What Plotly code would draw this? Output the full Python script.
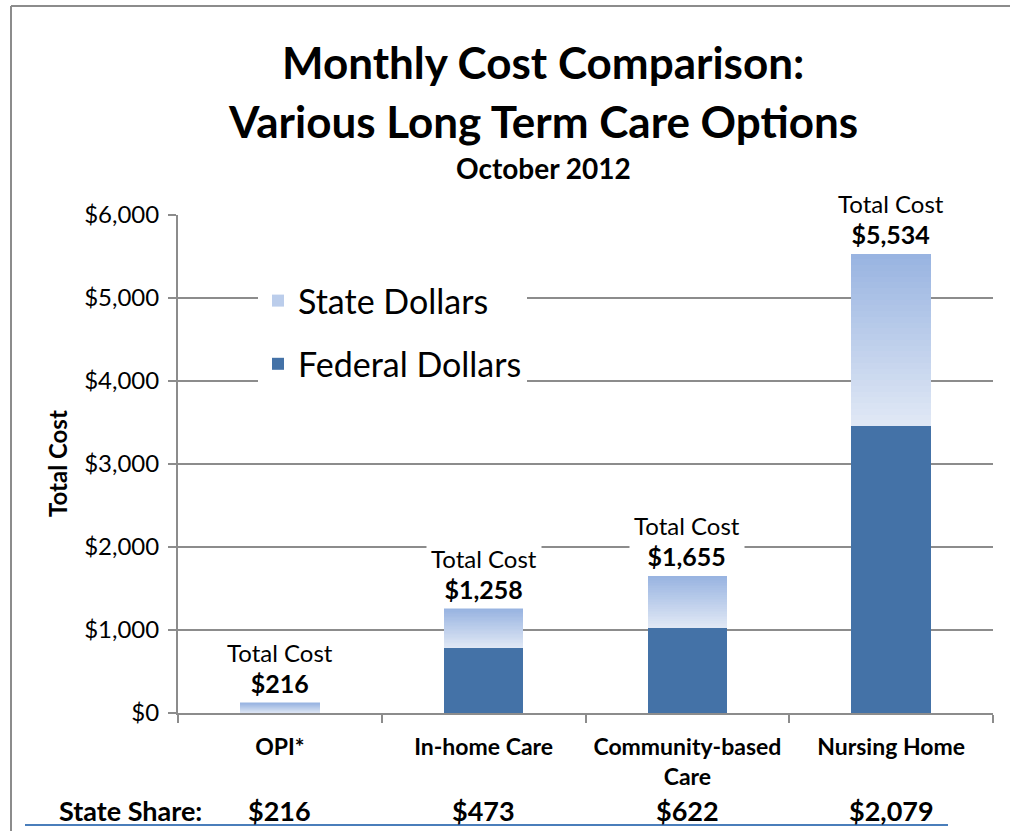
import plotly.graph_objects as go

categories = ["OPI*", "In-home Care", "Community-based<br>Care", "Nursing Home"]
federal_dollars = [0, 785, 1033, 3455]
state_dollars = [125, 473, 622, 2079]
total_labels = ["$216", "$1,258", "$1,655", "$5,534"]
state_share_labels = ["$216", "$473", "$622", "$2,079"]
y_ticks = [0, 1000, 2000, 3000, 4000, 5000, 6000]
y_tick_text = ["$0", "$1,000", "$2,000", "$3,000", "$4,000", "$5,000", "$6,000"]

FONT = "Lato"
FED_COLOR = "#4472a7"
GRAD_TOP = (0x99, 0xb4, 0xe1)
GRAD_BOT = (0xe0, 0xe8, 0xf5)
N_SLICES = 30

# plot area in pixels
L, R, T, B = 178, 993, 215, 713
W, H = 1013, 831


def px_x(p):
    return (p - L) / (R - L)


def px_y(p):
    return (B - p) / (B - T)


fig = go.Figure()

fig.add_trace(go.Bar(
    x=categories, y=federal_dollars, name="Federal Dollars",
    marker=dict(color=FED_COLOR, line=dict(width=0)),
    legendgroup="fed", legendrank=2, hoverinfo="skip",
))

for i in range(N_SLICES):
    t = i / (N_SLICES - 1)
    c = tuple(int(round(GRAD_BOT[k] + (GRAD_TOP[k] - GRAD_BOT[k]) * t)) for k in range(3))
    fig.add_trace(go.Bar(
        x=categories, y=[v / N_SLICES for v in state_dollars],
        name="State Dollars",
        marker=dict(color="rgb(%d,%d,%d)" % c, line=dict(width=0)),
        legendgroup="state", legendrank=1,
        showlegend=(i == N_SLICES // 2), hoverinfo="skip",
    ))

annotations = []
for cat, fed, st, lab in zip(categories, federal_dollars, state_dollars, total_labels):
    annotations.append(dict(
        x=cat, y=fed + st, xref="x", yref="y", xanchor="center", yanchor="bottom", yshift=0,
        text="Total Cost<br><b><span style='font-size:25px'>%s</span></b>" % lab,
        showarrow=False, bgcolor="white", borderpad=4,
        font=dict(family=FONT, size=24, color="black"),
    ))

for cat, lab in zip(categories, state_share_labels):
    annotations.append(dict(
        x=cat, y=px_y(810), xref="x", yref="paper", xanchor="center", yanchor="middle",
        text="<b>%s</b>" % lab,
        showarrow=False, font=dict(family=FONT, size=27, color="black"),
    ))
annotations.append(dict(
    x=px_x(130), y=px_y(810), xref="paper", yref="paper", xanchor="center", yanchor="middle",
    text="<b>State Share:</b>",
    showarrow=False, font=dict(family=FONT, size=27, color="black"),
))

# titles
annotations += [
    dict(x=px_x(543), y=px_y(62), xref="paper", yref="paper", xanchor="center", yanchor="middle",
         showarrow=False, text="<b>Monthly Cost Comparison:</b>",
         font=dict(family=FONT, size=44, color="black")),
    dict(x=px_x(543), y=px_y(121), xref="paper", yref="paper", xanchor="center", yanchor="middle",
         showarrow=False, text="<b>Various Long Term Care Options</b>",
         font=dict(family=FONT, size=44, color="black")),
    dict(x=px_x(543), y=px_y(168), xref="paper", yref="paper", xanchor="center", yanchor="middle",
         showarrow=False, text="<b>October 2012</b>",
         font=dict(family=FONT, size=28, color="black")),
    dict(x=px_x(57), y=px_y(464), xref="paper", yref="paper", xanchor="center", yanchor="middle",
         showarrow=False, textangle=-90, text="<b>Total Cost</b>",
         font=dict(family=FONT, size=24, color="black")),
]

shapes = [
    dict(type="line", xref="paper", yref="paper", x0=px_x(11), x1=px_x(11), y0=px_y(6), y1=px_y(835),
         line=dict(color="#8c8c8c", width=2)),
    dict(type="line", xref="paper", yref="paper", x0=px_x(11), x1=px_x(1010), y0=px_y(6), y1=px_y(6),
         line=dict(color="#8c8c8c", width=2)),
    dict(type="line", xref="paper", yref="paper", x0=px_x(25), x1=px_x(948), y0=px_y(825), y1=px_y(825),
         line=dict(color="#4a7ebb", width=2)),
]

fig.update_layout(
    width=W, height=H,
    margin=dict(l=L, r=W - R, t=T, b=H - B, autoexpand=False),
    barmode="stack", bargap=0.61,
    paper_bgcolor="white", plot_bgcolor="white",
    font=dict(family=FONT, color="black"),
    showlegend=True,
    legend=dict(x=px_x(258), y=px_y(272), xanchor="left", yanchor="top",
                bgcolor="white", font=dict(family=FONT, size=34, color="black"),
                tracegroupgap=16, itemclick=False),
    annotations=annotations, shapes=shapes,
)

fig.update_xaxes(
    type="category", tickson="boundaries", ticks="outside", ticklen=8, tickwidth=2,
    tickcolor="#8c8c8c", showline=True, linecolor="#8c8c8c", linewidth=2,
    showgrid=False, tickfont=dict(family=FONT, size=23, color="black"),
    tickprefix="<b>", ticksuffix="</b>", ticklabelstandoff=12, tickangle=0,
)
fig.update_yaxes(
    range=[0, 6000], tickvals=y_ticks, ticktext=y_tick_text,
    ticks="outside", ticklen=8, tickwidth=2, tickcolor="#8c8c8c",
    showline=True, linecolor="#8c8c8c", linewidth=2,
    showgrid=True, gridcolor="#8c8c8c", gridwidth=2, zeroline=False,
    tickfont=dict(family=FONT, size=24, color="black"), ticklabelstandoff=4,
)

fig.write_html("out.html")
